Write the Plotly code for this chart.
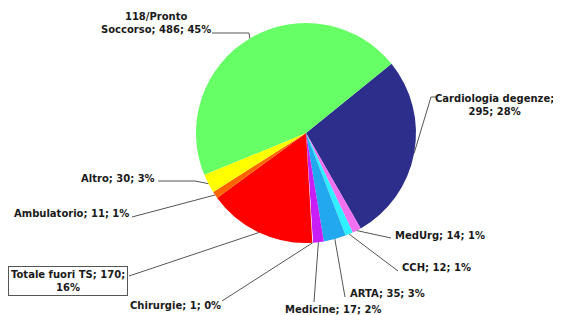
import math
import plotly.graph_objects as go

# ---- data (clockwise order, starting from the upper-right slice) ----
categories = ["Cardiologia degenze", "MedUrg", "CCH", "ARTA", "Medicine",
              "Chirurgie", "Totale fuori TS", "Ambulatorio", "Altro",
              "118/Pronto Soccorso"]
values = [295, 14, 12, 35, 17, 1, 170, 11, 30, 486]
colors = ["#2D2D8C", "#F070F0", "#2EF0FF", "#22A8EE", "#C81EF5",
          "#FFF0FF", "#FF0000", "#FF6600", "#FFFF00", "#66FF66"]

W, H = 561, 315
OFF = 8  # page body margin
CX, CY, R = 306, 133, 110
START = 51  # degrees clockwise from 12 o'clock

# label layout: (text position, anchor, line via-points, line break template)
label_style = {
    "Cardiologia degenze": dict(pos=(494, 105), xa="center", via=[(431, 97), (436, 97)],
                                fmt="{n};<br>{v}; {p}%"),
    "MedUrg": dict(pos=(393, 235), xa="left", via=[(391, 238)], fmt="{n}; {v}; {p}%"),
    "CCH": dict(pos=(400, 267), xa="left", via=[(398, 271)], fmt="{n}; {v}; {p}%"),
    "ARTA": dict(pos=(348, 293), xa="left", via=[(345, 297)], fmt="{n}; {v}; {p}%"),
    "Medicine": dict(pos=(283, 309), xa="left", via=[(314, 302)], fmt="{n}; {v}; {p}%"),
    "Chirurgie": dict(pos=(128, 305), xa="left", via=[(222, 301)], fmt="{n}; {v}; {p}%"),
    "Totale fuori TS": dict(pos=(67.5, 281), xa="center", via=[(129, 276)],
                            fmt="{n}; {v};<br>{p}%", box=True),
    "Ambulatorio": dict(pos=(131, 213), xa="right", via=[(132, 217)], fmt="{n}; {v}; {p}%"),
    "Altro": dict(pos=(157, 178), xa="right", via=[(195, 181), (158, 181)],
                  fmt="{n}; {v}; {p}%"),
    "118/Pronto Soccorso": dict(pos=(156, 23), xa="center", via=[(249, 33), (212, 33)],
                                fmt="118/Pronto<br>Soccorso; {v}; {p}%"),
}

def px(x):
    return (x - OFF) / W

def py(y):
    return 1 - (y - OFF) / H

fig = go.Figure(go.Pie(
    labels=categories, values=values, sort=False, direction="clockwise",
    rotation=START, marker=dict(colors=colors, line=dict(width=0)),
    textinfo="none", hoverinfo="none", showlegend=False,
    domain=dict(x=[px(CX - R), px(CX + R)], y=[py(CY + R), py(CY - R)]),
))

total = sum(values)
ang = START
shapes, annots = [], []
for name, v in zip(categories, values):
    span = v / total * 360
    mid = math.radians(ang + span / 2)
    ang += span
    st = label_style[name]
    ex, ey = CX + R * math.sin(mid), CY - R * math.cos(mid)
    pts = [(ex, ey)] + st["via"]
    path = "M " + " L ".join(f"{px(a):.5f},{py(b):.5f}" for a, b in pts)
    shapes.append(dict(type="path", path=path, xref="paper", yref="paper",
                       line=dict(color="#555555", width=1), layer="above"))
    pct = round(v / total * 100)
    text = st["fmt"].format(n=name, v=v, p=pct)
    a = dict(x=px(st["pos"][0]), y=py(st["pos"][1]), xref="paper", yref="paper",
             text=f"<b>{text}</b>", showarrow=False, xanchor=st["xa"], yanchor="middle",
             align="center", font=dict(family="DejaVu Sans", size=10, color="#1a1a1a"))
    if st.get("box"):
        a.update(bordercolor="#555555", borderwidth=1, borderpad=2)
    annots.append(a)

fig.update_layout(width=W, height=H, margin=dict(l=0, r=0, t=0, b=0),
                  paper_bgcolor="white", plot_bgcolor="white",
                  shapes=shapes, annotations=annots)
fig.write_html("out.html")
